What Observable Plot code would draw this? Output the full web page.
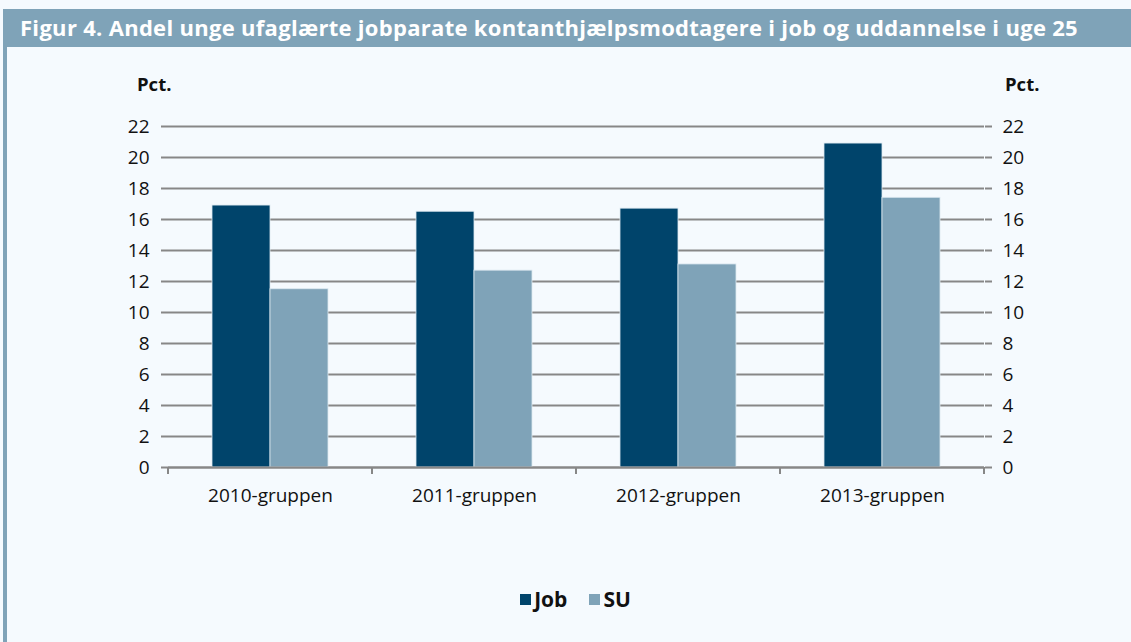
<!DOCTYPE html>
<html>
<head>
<meta charset="utf-8">
<script src="https://cdn.jsdelivr.net/npm/d3@7"></script>
<script src="https://cdn.jsdelivr.net/npm/@observablehq/plot@0.6"></script>
<style>
  html, body { margin: 0; padding: 0; }
  body { width: 1131px; height: 642px; background: #F5FAFE; position: relative; overflow: hidden; font-family: "Open Sans", sans-serif; }
  #titlebar { position: absolute; left: 3px; top: 9px; width: 1128px; height: 38px; background: #7FA3B8; }
  #title { position: absolute; left: 17px; top: 3px; color: #fff; font-weight: 700; font-size: 22px; white-space: nowrap; letter-spacing: 0.3px; }
  #leftstrip { position: absolute; left: 3px; top: 47px; width: 4px; height: 595px; background: #7FA3B8; }
  .pct { position: absolute; top: 71px; font-weight: 700; font-size: 18.5px; color: #111; }
  #chart { position: absolute; left: 0; top: 60px; }
  #legend { position: absolute; top: 585px; left: 10px; width: 1131px; display: flex; justify-content: center; align-items: center; font-weight: 700; font-size: 21px; color: #111; }
  .sw { display: inline-block; width: 11px; height: 11px; margin-right: 3px; }
  .item { display: flex; align-items: center; margin: 0 11px; }
</style>
</head>
<body>
<div id="titlebar"><div id="title">Figur 4. Andel unge ufaglærte jobparate kontanthjælpsmodtagere i job og uddannelse i uge 25</div></div>
<div id="leftstrip"></div>
<div class="pct" style="left:137px">Pct.</div>
<div class="pct" style="left:1005px">Pct.</div>
<div id="chart"></div>
<div id="legend"></div>
<script>
const groups = ["2010-gruppen", "2011-gruppen", "2012-gruppen", "2013-gruppen"];
const seriesNames = ["Job", "SU"];
const jobValues = [16.9, 16.5, 16.7, 20.9];
const suValues = [11.5, 12.7, 13.1, 17.4];
const yTicks = [0, 2, 4, 6, 8, 10, 12, 14, 16, 18, 20, 22];
const colors = ["#00446B", "#7FA3B8"];

const data = [];
groups.forEach((g, i) => {
  data.push({group: g, series: "Job", value: jobValues[i]});
  data.push({group: g, series: "SU", value: suValues[i]});
});

const gridColor = "#878787";
const font = "'Open Sans', sans-serif";

const plot = Plot.plot({
  width: 1131,
  height: 470,
  marginTop: 66,
  marginBottom: 63,
  marginLeft: 167,
  marginRight: 147,
  style: {background: "transparent", fontFamily: font, fontSize: "19px", color: "#111"},
  fx: {domain: groups, padding: 0, label: null},
  x: {domain: seriesNames, paddingInner: 0, paddingOuter: 0.74, axis: null},
  y: {domain: [0, 22], label: null},
  color: {domain: seriesNames, range: colors},
  marks: [
    Plot.gridY(yTicks, {stroke: gridColor, strokeOpacity: 1, strokeWidth: 2}),
    Plot.barY(data, {fx: "group", x: "series", y: "value", fill: "series", stroke: "#dce8f0", strokeWidth: 0.8}),
    Plot.ruleY([0], {stroke: gridColor, strokeWidth: 2}),
    Plot.axisY(yTicks, {anchor: "left", tickSize: 7, tickPadding: 12, stroke: gridColor, strokeWidth: 2, line: true, label: null, fontSize: 19, fill: "#111"}),
    Plot.axisY(yTicks, {anchor: "right", tickSize: 7, tickPadding: 11, stroke: gridColor, strokeWidth: 2, line: true, label: null, fontSize: 19, fill: "#111"}),
    Plot.axisFx({anchor: "bottom", tickSize: 0, tickPadding: 21, label: null, fontSize: 19, fill: "#111"})
  ]
});

document.getElementById("chart").appendChild(plot);

// category boundary tick marks below the baseline, from the library's scales
const fx = plot.scale("fx");
const ys = plot.scale("y");
const y0 = ys.apply(0);
const bounds = groups.map(g => fx.apply(g)).concat([fx.apply(groups[groups.length - 1]) + fx.bandwidth]);
d3.select(plot).append("g")
  .selectAll("line").data(bounds).join("line")
  .attr("x1", d => d).attr("x2", d => d)
  .attr("y1", y0).attr("y2", y0 + 7)
  .attr("stroke", gridColor).attr("stroke-width", 2);

// legend
const legend = d3.select("#legend");
seriesNames.forEach((s, i) => {
  const it = legend.append("div").attr("class", "item");
  it.append("span").attr("class", "sw").style("background", colors[i]);
  it.append("span").text(s);
});
</script>
</body>
</html>
